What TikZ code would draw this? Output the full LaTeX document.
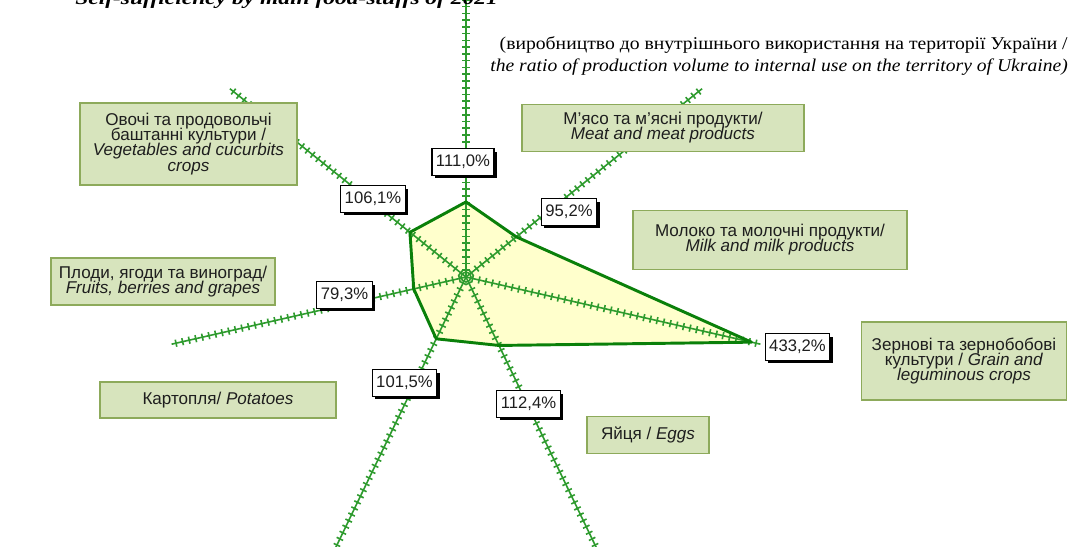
\documentclass[tikz,border=0pt]{standalone}
\usepackage{fontspec}
\usepackage{graphicx}
\setmainfont{Liberation Sans}
\newfontfamily\serifcap{Liberation Serif}
\usetikzlibrary{shadows}
\definecolor{boxfill}{HTML}{D7E4BD}
\definecolor{boxline}{HTML}{8DAA5B}
\definecolor{axisgreen}{HTML}{2E9B2E}
\definecolor{polyline}{HTML}{0A800A}
\definecolor{polyfill}{HTML}{FFFFCC}
\definecolor{txt}{HTML}{1E1E1E}
\newcommand\catfont{\fontsize{12.8}{11.3}\selectfont\lineskiplimit=-20pt\relax}
\begin{document}
\begin{tikzpicture}[x=0.75pt,y=-0.75pt,
  cat/.style={draw=boxline, line width=1.1pt, fill=boxfill, text=txt, align=center,
    font=\catfont, inner sep=0pt},
  val/.style={draw=black, line width=0.8pt, fill=white, text=txt,
    font=\fontsize{12.5}{12}\selectfont, inner xsep=3pt, inner ysep=0pt, minimum height=20pt,
    drop shadow={shadow xshift=2.2pt, shadow yshift=-2.2pt, fill=black, opacity=1}},
  axisline/.style={draw=axisgreen, line width=1.2pt},
  polyedge/.style={draw=polyline, line width=2.2pt, line join=round}]
\clip (0,0) rectangle (1074,546);
\fill[white] (0,0) rectangle (1074,546);

\coordinate (C) at (466,277);
\begin{scope}[shift={(C)}, yscale=-1]
  \foreach \v [count=\k from 0] in {111.0,95.2,433.2,112.4,101.5,79.3,106.1}
    \coordinate (p\k) at ({90-\k*360/7}:{\v*0.676});
  \fill[polyfill] (p0)--(p1)--(p2)--(p3)--(p4)--(p5)--(p6)--cycle;
  \foreach \k in {0,...,6} {
    \pgfmathsetmacro{\a}{90-\k*360/7}
    \draw[axisline] (0,0) -- (\a:302);
    \foreach \i in {1,...,44} {
      \pgfmathsetmacro{\r}{\i*6.76}
      \draw[axisline] ({\r*cos(\a)-3.6*sin(\a)},{\r*sin(\a)+3.6*cos(\a)})
                   -- ({\r*cos(\a)+3.6*sin(\a)},{\r*sin(\a)-3.6*cos(\a)});
    }
  }
  \draw[axisline] (0,0) circle (5);
  \draw[polyedge] (p0)--(p1)--(p2)--(p3)--(p4)--(p5)--(p6)--cycle;
\end{scope}

% title (cut by the top edge) and subtitle
\node[anchor=base west, inner sep=0pt, font=\serifcap\bfseries\itshape\fontsize{14}{14}\selectfont] (title) at (75,4)
  {\resizebox{317pt}{\height}{Self-sufficiency by main food-stuffs of 2021}};
\node[anchor=base east, inner sep=0pt, font=\serifcap\fontsize{13.5}{16}\selectfont] (sub1) at (1068,49)
  {\resizebox{426pt}{\height}{(виробництво до внутрішнього використання на території України /}};
\node[anchor=base east, inner sep=0pt, font=\serifcap\itshape\fontsize{13.5}{16}\selectfont] (sub2) at (1068,71)
  {\resizebox{433pt}{\height}{the ratio of production volume to internal use on the territory of Ukraine)}};

% category boxes
\node[cat, minimum width=162.75pt, minimum height=61.5pt] (veg) at (188.5,144)
  {Овочі та продовольчі\\баштанні культури /\\\textit{Vegetables and cucurbits}\\\textit{crops}};
\node[cat, minimum width=211.5pt, minimum height=35.25pt] (meat) at (663,128)
  {М'ясо та м'ясні продукти/\\\textit{Meat and meat products}};
\node[cat, minimum width=205.5pt, minimum height=44.25pt] (milk) at (770,240)
  {Молоко та молочні продукти/\\\textit{Milk and milk products}};
\node[cat, minimum width=168pt, minimum height=35.25pt] (fruit) at (163,281.5)
  {Плоди, ягоди та виноград/\\\textit{Fruits, berries and grapes}};
\node[cat, minimum width=177pt, minimum height=27pt] (potato) at (218,400)
  {Картопля/ \textit{Potatoes}};
\node[cat, minimum width=153.75pt, minimum height=58.5pt] (grain) at (964,361)
  {Зернові та зернобобові\\культури / \textit{Grain and}\\\textit{leguminous crops}};
\node[cat, minimum width=91.5pt, minimum height=27.75pt] (eggs) at (648,435)
  {Яйця / \textit{Eggs}};

% value labels
\node[val] (vmeat) at (463,162) {111,0\%};
\node[val] (vmilk) at (569,212) {95,2\%};
\node[val] (vgrain) at (797.5,347) {433,2\%};
\node[val] (veggs) at (528.5,404) {112,4\%};
\node[val] (vpot) at (404.5,383) {101,5\%};
\node[val] (vfruit) at (344.5,295) {79,3\%};
\node[val] (vveg) at (373,199) {106,1\%};
\end{tikzpicture}
\end{document}
